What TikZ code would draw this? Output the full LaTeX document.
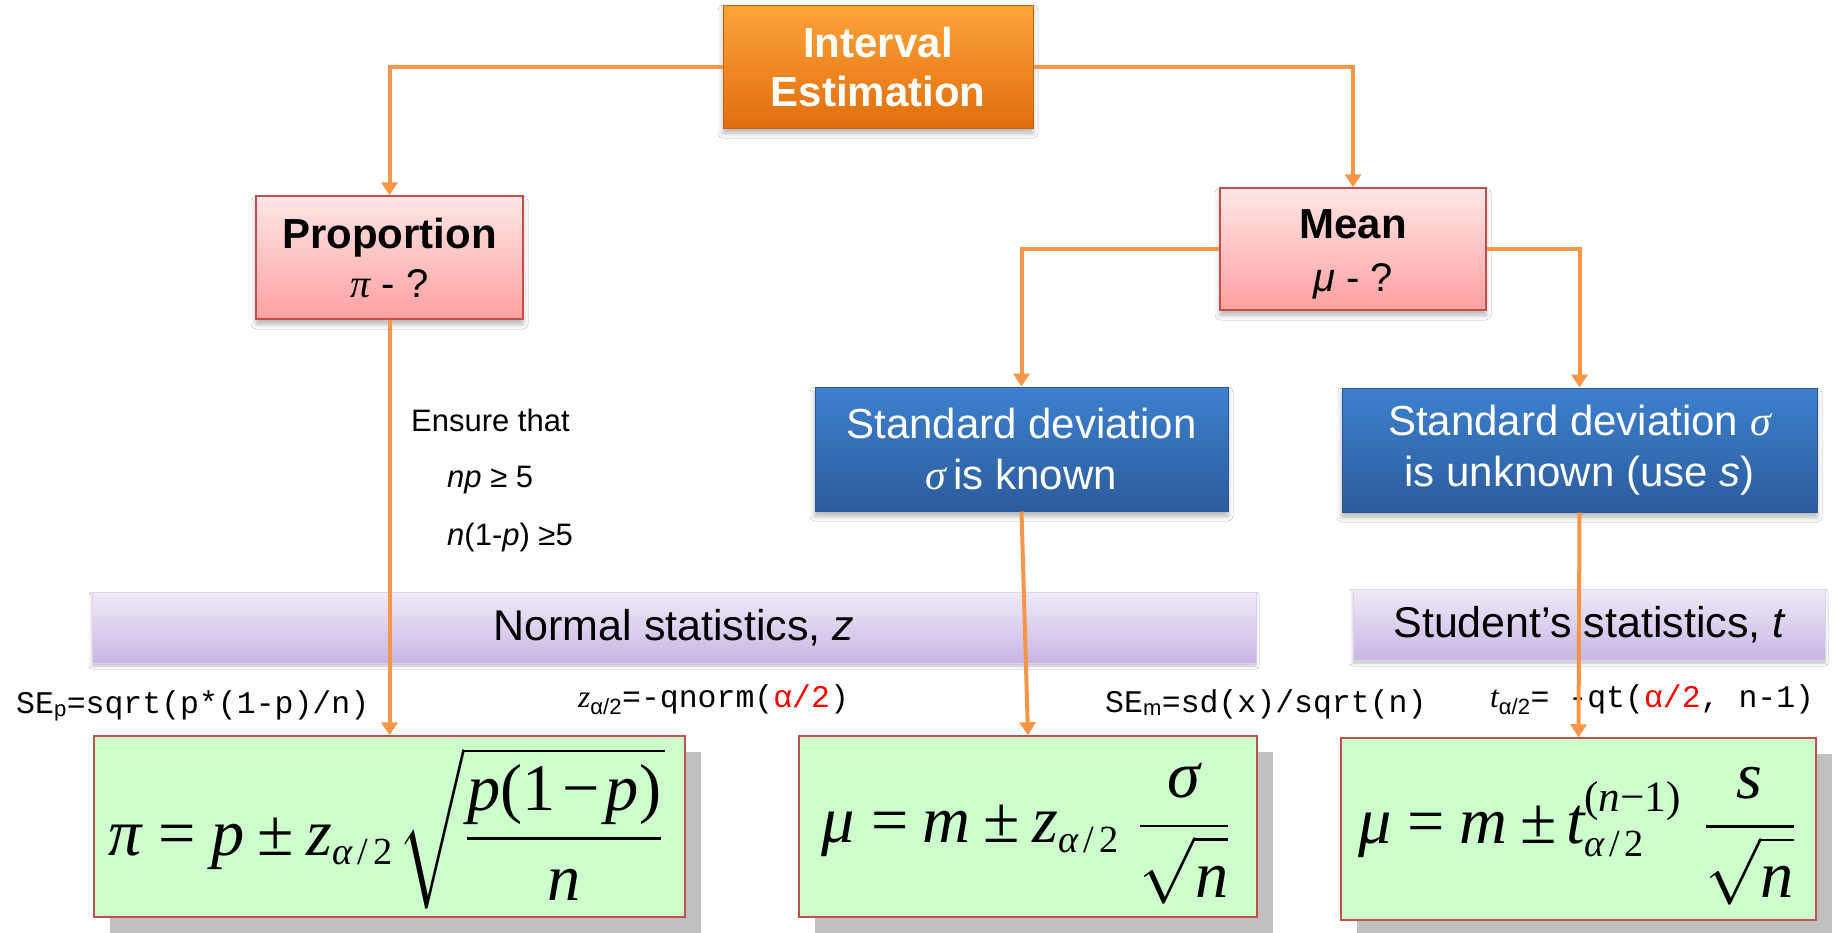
\documentclass[tikz,border=0pt]{standalone}
\usepackage{amsmath}
\usepackage{graphicx}
\usepackage{fontspec}
\setmainfont{Liberation Sans}
\setsansfont{Liberation Sans}
\setmonofont{Liberation Mono}
\newfontfamily\tms{Liberation Serif}
\DeclareMathSizes{20.74}{20.74}{12}{8}
\usetikzlibrary{arrows.meta,shadows,shadows.blur}
\definecolor{orng}{HTML}{F79646}
\definecolor{ieTop}{HTML}{FFA43A}
\definecolor{ieBot}{HTML}{E06E0C}
\definecolor{ieEdge}{HTML}{C8650E}
\definecolor{pkTop}{HTML}{FFE6E6}
\definecolor{pkBot}{HTML}{FFA0A0}
\definecolor{redEdge}{HTML}{C0504D}
\definecolor{blTop}{HTML}{3D80CE}
\definecolor{blBot}{HTML}{2C5C9C}
\definecolor{blEdge}{HTML}{2B5893}
\definecolor{puTop}{HTML}{F0EAF8}
\definecolor{puBot}{HTML}{C8B6E5}
\definecolor{puEdge}{HTML}{DDD3EE}
\definecolor{gFill}{HTML}{CCFFCC}
\definecolor{gShadow}{HTML}{C0C0C0}
\newcommand\ti[1]{\text{\tms\itshape #1}}
\newcommand\tr[1]{\text{\tms #1}}
\newcommand\half{\ti{α}\hspace{1.5pt}\tr{/}\hspace{1.5pt}\tr{2}}
\begin{document}
\begin{tikzpicture}[x=1pt,y=-1pt,
  conn/.style={draw=orng, line width=4pt, -{Triangle[width=16pt,length=13pt]}},
  softshadow/.style={blur shadow={shadow xshift=0pt, shadow yshift=-5pt, shadow blur radius=5pt, shadow opacity=30}},
  iebox/.style={rectangle, inner sep=0pt, top color=ieTop, bottom color=ieBot, draw=ieEdge, line width=1pt, text=white, align=center, font=\bfseries\fontsize{42}{49}\selectfont, softshadow},
  pinkbox/.style={rectangle, inner sep=0pt, top color=pkTop, bottom color=pkBot, draw=redEdge, line width=1.5pt, align=center, softshadow},
  bluebox/.style={rectangle, inner sep=0pt, top color=blTop, bottom color=blBot, draw=blEdge, line width=1pt, text=white, align=center, font=\fontsize{42}{51}\selectfont, softshadow},
  barbox/.style={rectangle, inner sep=0pt, top color=puTop, bottom color=puBot, draw=puEdge, line width=1pt, font=\fontsize{43}{43}\selectfont, blur shadow={shadow xshift=0pt, shadow yshift=-3pt, shadow blur radius=3pt, shadow opacity=25}},
  gbox/.style={rectangle, inner sep=0pt, fill=gFill, draw=redEdge, line width=1.5pt, drop shadow={shadow xshift=16pt, shadow yshift=-16pt, fill=gShadow, opacity=1}},
  formula/.style={inner sep=0pt, font=\fontsize{20.74}{25}\selectfont},
  lbl/.style={anchor=base west, inner sep=0pt, font=\ttfamily\fontsize{31.5}{31.5}\selectfont},
  note/.style={anchor=base west, inner sep=0pt, font=\fontsize{31}{31}\selectfont},
]
\useasboundingbox (0,0) rectangle (1837,932);
\fill[white] (0,0) rectangle (1837,932);

% bars
\node[barbox, minimum width=1164, minimum height=71] (bar1) at (674,627.5) {Normal statistics, {\itshape z}};
\node[barbox, minimum width=472, minimum height=71] (bar2) at (1589,624.5) {Student’s statistics, {\itshape t}};

% boxes
\node[iebox, minimum width=310, minimum height=123] (ie) at (878,66.5) {Interval\\Estimation};
\node[pinkbox, minimum width=267, minimum height=123, font=\fontsize{42}{49}\selectfont] (prop) at (389.5,257.5)
  {\textbf{Proportion}\\{\fontsize{40}{49}\selectfont{\tms\itshape π}\ - ?}};
\node[pinkbox, minimum width=266, minimum height=122] (mean) at (1353,249) {};
\node[inner sep=0pt, align=center, font=\fontsize{42}{53}\selectfont] (meantxt) at (1353,254)
  {\textbf{Mean}\\{\fontsize{40}{53}\selectfont{\itshape μ}\ - ?}};
\node[bluebox, minimum width=413, minimum height=124] (sdk) at (1021.5,449)
  {Standard deviation\\{\tms\itshape σ}\,is known};
\node[bluebox, minimum width=475, minimum height=124] (sdu) at (1579.5,450)
  {Standard deviation {\tms\itshape σ}\\is unknown (use {\itshape s})};

% green formula boxes
\node[gbox, minimum width=591, minimum height=181] (g1) at (389.5,826.5) {};
\node[gbox, minimum width=458, minimum height=181] (g2) at (1028,826.5) {};
\node[gbox, minimum width=475, minimum height=182] (g3) at (1578.5,829) {};
\node[formula] (f1) at (387,828) {\scalebox{3.2}{$\ti{π}\hspace{5pt}\tr{=}\hspace{5pt}\ti{p}\hspace{4pt}\tr{±}\hspace{4pt}\ti{z}_{\half}\hspace{1pt}\sqrt{\dfrac{\ti{p}\tr{(1}\hspace{2pt}\tr{−}\hspace{2pt}\ti{p}\tr{)}}{\ti{n}}}$}};
\node[formula] (f2) at (1027,834) {\scalebox{3.2}{$\ti{μ}\hspace{5pt}\tr{=}\hspace{4.5pt}\ti{m}\hspace{4pt}\tr{±}\hspace{4pt}\ti{z}_{\half}\hspace{5pt}\dfrac{\ti{σ}}{\sqrt{\vphantom{\tr{l}}\ti{n}}}$}};
\node[formula] (f3) at (1578,836) {\scalebox{3.2}{$\ti{μ}\hspace{5pt}\tr{=}\hspace{4.5pt}\ti{m}\hspace{4pt}\tr{±}\hspace{3pt}\ti{t}^{\text{\fontsize{13.5}{14}\selectfont\tms (\itshape n\upshape −1)}}_{\half}\hspace{6pt}\dfrac{\ti{s}}{\sqrt{\vphantom{\tr{l}}\ti{n}}}$}};

% notes
\node[note] (ens) at (411,431) {Ensure that};
\node[note] (np) at (447,487) {{\itshape np} ≥ 5};
\node[note] (n1p) at (447,545) {{\itshape n}(1-{\itshape p}) ≥5};

% code labels
\node[lbl] (sep) at (16,713) {SE\textsubscript{\sffamily p}=sqrt(p*(1-p)/n)};
\node[lbl] (zl) at (578,707) {{\tms\itshape z}\textsubscript{\sffamily α/2}=-qnorm(\textcolor{red}{α/2})};
\node[lbl] (sem) at (1105,712) {SE\textsubscript{\sffamily m}=sd(x)/sqrt(n)};
\node[lbl] (tl) at (1490,707) {{\tms\itshape t}\textsubscript{\sffamily α/2}= -qt(\textcolor{red}{α/2}, n-1)};

% connectors
\draw[conn] (ie.west) -| (prop.north);
\draw[conn] (ie.east) -| (mean.north);
\draw[conn] (mean.west) -| (sdk.north);
\draw[conn] (mean.east) -| (sdu.north);
\draw[conn] (prop.south) -- (g1.north);
\draw[conn] (sdk.south) -- (g2.north);
\draw[conn] (sdu.south) -- (g3.north);
\end{tikzpicture}
\end{document}
